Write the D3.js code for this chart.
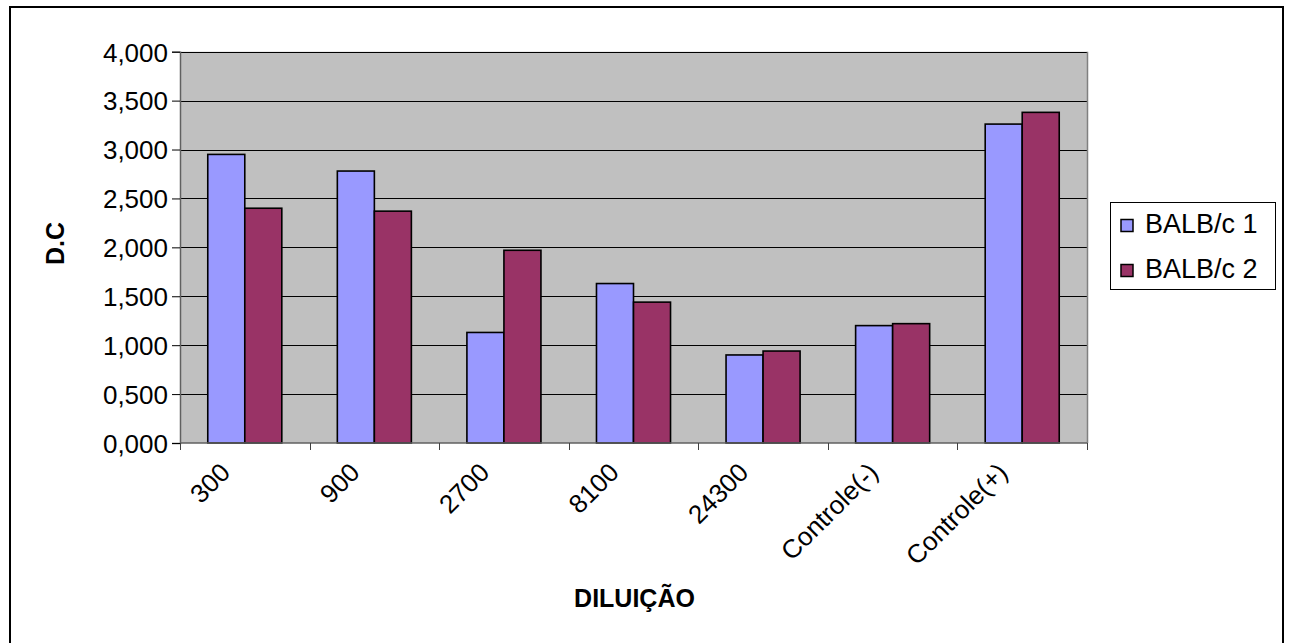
<!DOCTYPE html>
<html>
<head>
<meta charset="utf-8">
<script src="https://cdn.jsdelivr.net/npm/d3@7"></script>
<style>
  html, body { margin: 0; padding: 0; background: #fff; }
  svg { display: block; font-family: "Liberation Sans", Arial, sans-serif; }
</style>
</head>
<body>
<svg id="chart" width="1290" height="643"></svg>
<script>
// Optical density per dilution for two BALB/c mice
const categories = ["300", "900", "2700", "8100", "24300", "Controle(-)", "Controle(+)"];
const seriesNames = ["BALB/c 1", "BALB/c 2"];
const balb1 = [2.95, 2.78, 1.13, 1.63, 0.90, 1.20, 3.26];
const balb2 = [2.40, 2.37, 1.97, 1.44, 0.94, 1.22, 3.38];
const yTicks = [0, 0.5, 1, 1.5, 2, 2.5, 3, 3.5, 4];
const colors = ["#9999FF", "#993366"];

const svg = d3.select("#chart");

// Outer frame
svg.append("rect")
  .attr("x", 10).attr("y", 7).attr("width", 1273).attr("height", 650)
  .attr("fill", "none").attr("stroke", "#000").attr("stroke-width", 2);

const plot = { left: 180, right: 1087, top: 51.7, bottom: 443 };

const x = d3.scaleBand().domain(categories).range([plot.left, plot.right]).padding(0);
const xs = d3.scaleBand().domain(seriesNames).range([0, x.bandwidth()])
  .paddingInner(0).paddingOuter(0.75);
const y = d3.scaleLinear().domain([0, 4]).range([plot.bottom, plot.top]);

// Plot area background
svg.append("rect")
  .attr("x", plot.left).attr("y", plot.top)
  .attr("width", plot.right - plot.left).attr("height", plot.bottom - plot.top)
  .attr("fill", "#C0C0C0");

// Horizontal gridlines
svg.append("g").selectAll("line")
  .data(yTicks.filter(t => t > 0))
  .join("line")
  .attr("x1", plot.left).attr("x2", plot.right)
  .attr("y1", d => Math.round(y(d)) + 0.5).attr("y2", d => Math.round(y(d)) + 0.5)
  .attr("stroke", "#000").attr("stroke-width", 1);

// Right border of plot area
svg.append("line")
  .attr("x1", plot.right + 0.5).attr("x2", plot.right + 0.5)
  .attr("y1", plot.top).attr("y2", plot.bottom)
  .attr("stroke", "#808080").attr("stroke-width", 1.5);

// Bars
const rows = categories.map((c, i) => ({ cat: c, vals: [balb1[i], balb2[i]] }));
const groups = svg.append("g").selectAll("g")
  .data(rows).join("g")
  .attr("transform", d => `translate(${x(d.cat)},0)`);
groups.selectAll("rect")
  .data(d => d.vals.map((v, j) => ({ name: seriesNames[j], v, j })))
  .join("rect")
  .attr("x", d => xs(d.name))
  .attr("width", xs.bandwidth())
  .attr("y", d => y(d.v))
  .attr("height", d => y(0) - y(d.v))
  .attr("fill", d => colors[d.j])
  .attr("stroke", "#000").attr("stroke-width", 1.6);

// Y axis
const yAxis = d3.axisLeft(y).tickValues(yTicks).tickSize(8)
  .tickFormat(d => d3.format(".3f")(d).replace(".", ","));
const gy = svg.append("g").attr("transform", `translate(${plot.left},0)`).call(yAxis);
gy.select(".domain").attr("stroke", "#606060").attr("stroke-width", 1.5);
gy.selectAll(".tick line").attr("stroke", "#000");
gy.selectAll(".tick text")
  .attr("x", -12).attr("dy", "0.36em")
  .attr("font-size", 26).attr("font-family", "Liberation Sans, Arial, sans-serif")
  .attr("fill", "#000");

// X axis: ticks at category boundaries
const gx = svg.append("g").attr("transform", `translate(0,${plot.bottom})`);
gx.append("line")
  .attr("x1", plot.left).attr("x2", plot.right).attr("y1", 0).attr("y2", 0)
  .attr("stroke", "#606060").attr("stroke-width", 1.5);
const boundaries = categories.map(c => x(c)).concat([x(categories[categories.length - 1]) + x.bandwidth()]);
gx.selectAll("line.tk").data(boundaries).join("line")
  .attr("class", "tk")
  .attr("x1", d => Math.round(d) + 0.5).attr("x2", d => Math.round(d) + 0.5)
  .attr("y1", 0).attr("y2", 7)
  .attr("stroke", "#404040").attr("stroke-width", 1);
gx.selectAll("text").data(categories).join("text")
  .attr("transform", d => `translate(${x(d) + x.bandwidth() / 2 - 13},31) rotate(-45)`)
  .attr("text-anchor", "end")
  .attr("font-size", 26)
  .attr("fill", "#000")
  .text(d => d);

// Axis titles
svg.append("text")
  .attr("transform", "translate(64,243.5) rotate(-90)")
  .attr("text-anchor", "middle")
  .attr("font-size", 25).attr("font-weight", "bold")
  .text("D.C");
svg.append("text")
  .attr("x", 634.5).attr("y", 607)
  .attr("text-anchor", "middle")
  .attr("font-size", 25).attr("font-weight", "bold")
  .text("DILUIÇÃO");

// Legend
const lg = svg.append("g");
lg.append("rect")
  .attr("x", 1110.5).attr("y", 202.5).attr("width", 165).attr("height", 87)
  .attr("fill", "#fff").attr("stroke", "#000").attr("stroke-width", 1);
const items = lg.selectAll("g.item").data(seriesNames).join("g")
  .attr("class", "item")
  .attr("transform", (d, i) => `translate(0,${i * 45})`);
items.append("rect")
  .attr("x", 1121).attr("y", 219.5).attr("width", 12).attr("height", 12)
  .attr("fill", (d, i) => colors[i]).attr("stroke", "#000").attr("stroke-width", 1.5);
items.append("text")
  .attr("x", 1145).attr("y", 233)
  .attr("font-size", 27)
  .text(d => d);
</script>
</body>
</html>
